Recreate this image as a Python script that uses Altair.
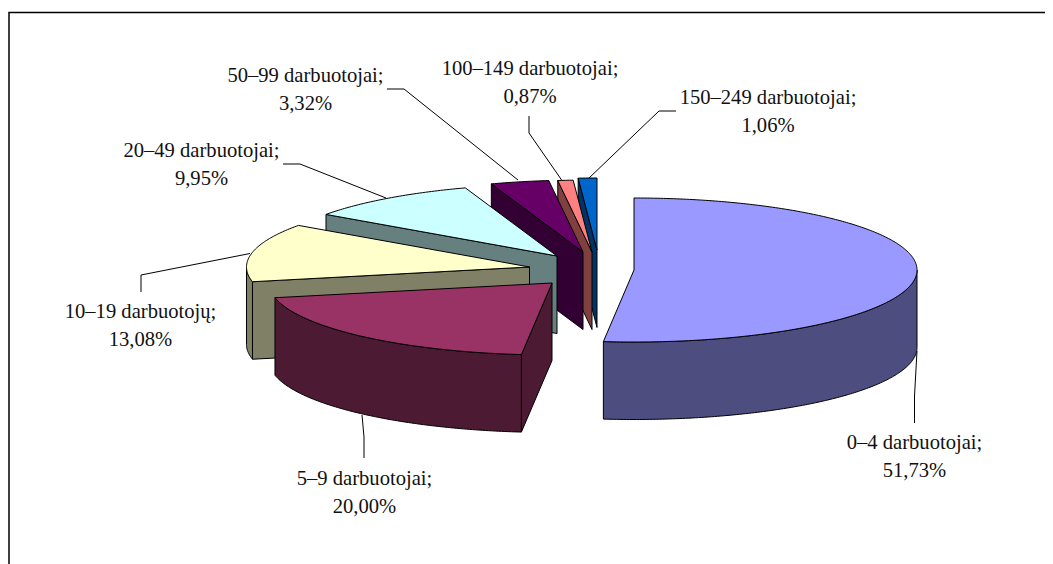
import math
import altair as alt

# --- data ---
categories = ["0–4 darbuotojai;", "5–9 darbuotojai;", "10–19 darbuotojų;", "20–49 darbuotojai;",
              "50–99 darbuotojai;", "100–149 darbuotojai;", "150–249 darbuotojai;"]
shares = [51.73, 20.00, 13.08, 9.95, 3.32, 0.87, 1.06]
top_colours = ["#9999FF", "#993366", "#FFFFCC", "#CCFFFF", "#660066", "#FF8080", "#0066CC"]
side_colours = ["#4D4D80", "#4D1A33", "#808066", "#668080", "#330033", "#804040", "#003366"]

# --- layout (page pixels; the chart origin sits 8px into the page) ---
OX, OY = 8, 8
RX, RY, DEPTH = 283, 72, 77.5
apexes = [(634, 270), (552, 283), (529.5, 267), (557, 256), (583, 252), (592, 252), (597, 250)]
label_pos = [(914.5, 449), (364.5, 485), (140.5, 318), (201.5, 157), (305.5, 82), (530, 75), (768, 104)]
leaders = [
    [(914.5, 423), (914.5, 396), (917, 351)],
    [(364, 458), (364, 437), (362, 415)],
    [(141, 292), (141, 275), (250, 253.5)],
    [(283, 164), (300, 164), (386, 198)],
    [(387, 89), (404, 89), (518, 180)],
    [(529, 116), (529, 133), (563, 182)],
    [(676, 111), (659, 111), (588, 179)],
]
frame = [[(9, 564), (9, 12.5), (1053, 12.5)]]
LINE_GAP = 28


def pt(apex, deg, dy=0.0):
    a = math.radians(deg)
    return [apex[0] + RX * math.sin(a) - OX, apex[1] - RY * math.cos(a) + dy - OY]


def arc(apex, a0, a1, dy=0.0):
    n = max(2, int(abs(a1 - a0) * 1.5))
    return [pt(apex, a0 + (a1 - a0) * i / n, dy) for i in range(n + 1)]


def poly(coords, fill):
    return {"type": "Feature", "properties": {"fill": fill},
            "geometry": {"type": "Polygon", "coordinates": [coords + [coords[0]]]}}


total = sum(shares)
angles = []
acc = 0.0
for s in shares:
    angles.append((acc * 360 / total, (acc + s) * 360 / total))
    acc += s

features = []
for i in [6, 5, 4, 3, 2, 1, 0]:
    a0, a1 = angles[i]
    ap = apexes[i]
    c = [ap[0] - OX, ap[1] - OY]
    # radial wall at the slice's starting edge, visible when it faces the viewer
    if a0 > 90 and a0 < 360 and i > 0:
        o = pt(ap, a0)
        features.append(poly([c, o, [o[0], o[1] + DEPTH], [c[0], c[1] + DEPTH]], side_colours[i]))
    # curved outer wall on the front half of the ellipse
    lo, hi = max(a0, 90), min(a1, 270)
    if hi > lo:
        features.append(poly(arc(ap, lo, hi) + arc(ap, hi, lo, DEPTH), side_colours[i]))
    features.append(poly([c] + arc(ap, a0, a1), top_colours[i]))

lines = []
for seg in leaders + frame:
    lines.append({"type": "Feature", "properties": {"w": 1.5 if seg in frame else 1},
                  "geometry": {"type": "LineString",
                               "coordinates": [[x - OX, y - OY] for x, y in seg]}})

text_rows = []
for name, s, (x, y) in zip(categories, shares, label_pos):
    text_rows.append({"x": x - OX, "y": y - OY, "t": name})
    text_rows.append({"x": x - OX, "y": y - OY + LINE_GAP, "t": f"{s:.2f}%".replace(".", ",")})

proj = alt.Projection(type="identity", scale=1, translate=[0, 0])

slices = alt.Chart(alt.InlineData(values={"type": "FeatureCollection", "features": features},
                                  format=alt.JsonDataFormat(type="json", property="features"))
                   ).mark_geoshape(stroke="black", strokeWidth=1, strokeJoin="round").encode(
    fill=alt.Fill("properties.fill:N", scale=None)
).project(**proj.to_dict())

rules = alt.Chart(alt.InlineData(values={"type": "FeatureCollection", "features": lines},
                                 format=alt.JsonDataFormat(type="json", property="features"))
                  ).mark_geoshape(filled=False, stroke="black").encode(
    strokeWidth=alt.StrokeWidth("properties.w:Q", scale=None)
).project(**proj.to_dict())

texts = alt.Chart(alt.Data(values=text_rows)).mark_text(
    font="Liberation Serif", fontSize=20.6, color="#111111", baseline="alphabetic", align="center"
).encode(
    x=alt.X("x:Q", scale=None, axis=None),
    y=alt.Y("y:Q", scale=None, axis=None),
    text="t:N",
)

chart = alt.layer(rules, slices, texts).properties(
    width=1037, height=556, padding=0, background="white",
    autosize=alt.AutoSizeParams(type="none"),
).configure_view(stroke=None)

chart.save("out.html", embed_options={"renderer": "svg", "actions": False})
